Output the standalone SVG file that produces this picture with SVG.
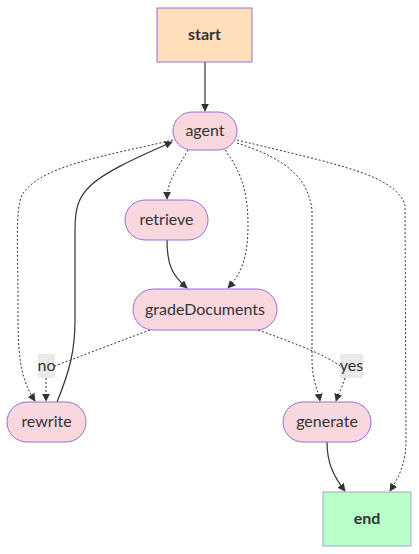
<svg xmlns="http://www.w3.org/2000/svg" width="419" height="554" viewBox="0 0 419 554">
<defs>
<marker id="ah" viewBox="0 0 10 10" refX="9" refY="5" markerWidth="8" markerHeight="8" markerUnits="userSpaceOnUse" orient="auto">
<path d="M0,0 L10,5 L0,10 z" fill="#333"/>
</marker>
<style>
.node rect{fill:#f9d7de;stroke:#9370db;stroke-width:1}
.t{font-family:Lato,"Open Sans","DejaVu Sans",sans-serif;font-size:16px;fill:#333;text-anchor:middle;dominant-baseline:central}
.b{font-weight:bold}
.e{fill:none;stroke:#333;stroke-width:1.2}
.d{stroke-dasharray:2 2;stroke-width:1}
.lbl{fill:#e8e8e8;opacity:0.9}
</style>
</defs>
<rect width="419" height="554" fill="#fff"/>
<g id="edges">
<path class="e" d="M205,62 L205,111" marker-end="url(#ah)"/>
<path class="e d" d="M188,150 C180,165 167,180 167,199" marker-end="url(#ah)"/>
<path class="e d" d="M225,150 C240,170 248,190 248,225 C248,260 240,275 228,288" marker-end="url(#ah)"/>
<path class="e d" d="M173,140 C110,155 40,165 22,195 C15,210 18,250 18,300 C18,350 18,375 35,401" marker-end="url(#ah)"/>
<path class="e" d="M57,402 C70,370 75,350 75,320 L75,230 C75,190 85,180 172,142" marker-end="url(#ah)"/>
<path class="e d" d="M237,143 C290,160 308,180 312,210 L312,360 C312,380 318,390 320,401" marker-end="url(#ah)"/>
<path class="e d" d="M237,140 C340,165 395,175 405,205 L406,440 C406,465 398,478 390,491" marker-end="url(#ah)"/>
<path class="e" d="M167,240 C167,265 172,275 187,288" marker-end="url(#ah)"/>
<path class="e d" d="M150,330 C110,345 70,360 55,366"/>
<path class="e d" d="M46,378 L46,401" marker-end="url(#ah)"/>
<path class="e d" d="M258,330 C300,345 325,355 340,366"/>
<path class="e d" d="M345,378 C342,388 338,395 336,401" marker-end="url(#ah)"/>
<path class="e" d="M327,442 C327,465 335,478 345,491" marker-end="url(#ah)"/>
<rect class="lbl" x="38" y="354" width="17" height="24"/>
<text class="t" x="46.5" y="364.5">no</text>
<rect class="lbl" x="340" y="354" width="23" height="24"/>
<text class="t" x="351.5" y="364.5">yes</text>
</g>
<g id="start">
<rect x="157" y="8" width="95" height="54" fill="#ffdfba" stroke="#9370db"/>
<text class="t b" x="204.5" y="33.5">start</text>
</g>
<g id="agent" class="node">
<rect x="173" y="112" width="64" height="38" rx="19"/>
<text class="t" x="205" y="129.5">agent</text>
</g>
<g id="retrieve" class="node">
<rect x="125" y="200" width="83" height="40" rx="20"/>
<text class="t" x="166.5" y="218.5">retrieve</text>
</g>
<g id="gradeDocuments" class="node">
<rect x="133" y="289" width="144" height="41" rx="20.5"/>
<text class="t" x="205" y="308">gradeDocuments</text>
</g>
<g id="rewrite" class="node">
<rect x="7" y="402" width="79" height="40" rx="20"/>
<text class="t" x="46.5" y="420.5">rewrite</text>
</g>
<g id="generate" class="node">
<rect x="283" y="402" width="88" height="40" rx="20"/>
<text class="t" x="327" y="420.5">generate</text>
</g>
<g id="end">
<rect x="323" y="492" width="88" height="54" fill="#baffc9" stroke="#a0a8c8"/>
<text class="t b" x="367" y="517.5">end</text>
</g>
</svg>
